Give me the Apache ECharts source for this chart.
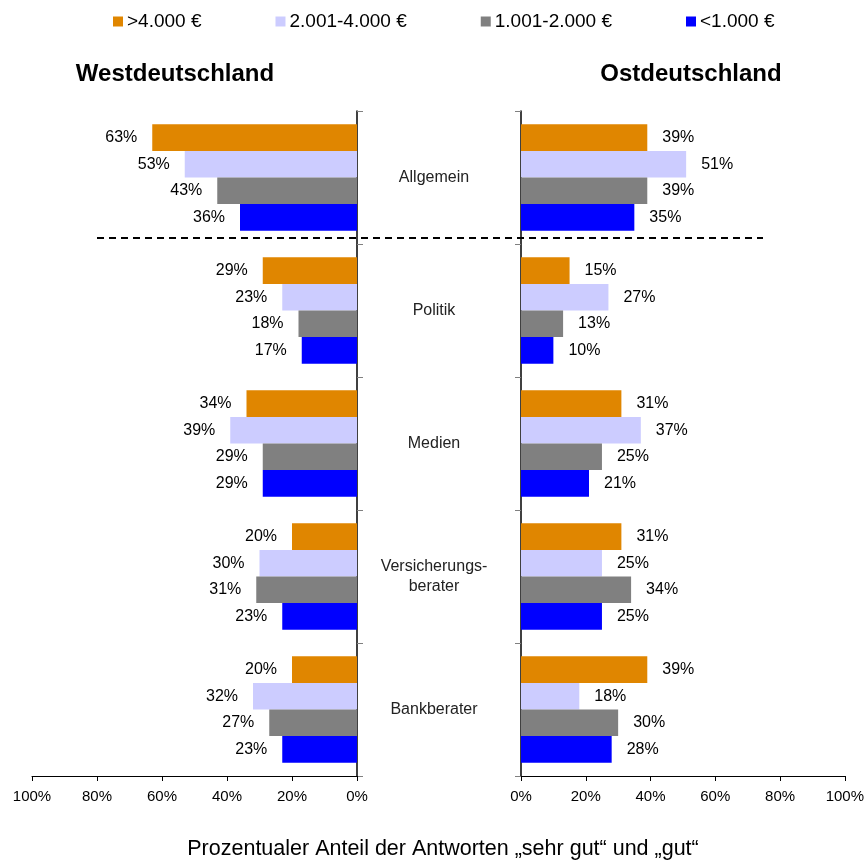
<!DOCTYPE html>
<html>
<head>
<meta charset="utf-8">
<script src="https://cdn.jsdelivr.net/npm/echarts@6/dist/echarts.min.js"></script>
<style>
  html, body { margin: 0; padding: 0; background: #fff; }
  #chart { width: 867px; height: 861px; }
</style>
</head>
<body>
<div id="chart"></div>
<script>
const categories = ['Allgemein', 'Politik', 'Medien', 'Versicherungs-\nberater', 'Bankberater']
const groups = ['>4.000 €', '2.001-4.000 €', '1.001-2.000 €', '<1.000 €']
const colors = ['#E08600', '#CCCCFF', '#808080', '#0000FF']

// Westdeutschland, one array per income group
const west = [
    [63, 29, 34, 20, 20],
    [53, 23, 39, 30, 32],
    [43, 18, 29, 31, 27],
    [36, 17, 29, 23, 23]
]
// Ostdeutschland
const east = [
    [39, 15, 31, 31, 39],
    [51, 27, 37, 25, 18],
    [39, 13, 25, 34, 30],
    [35, 10, 21, 25, 28]
]

const font = 'Liberation Sans, Arial, sans-serif'
const chart = echarts.init(document.getElementById('chart'))

const xAxisBase = (inverse) => ({
    type: 'value',
    min: 0,
    max: 100,
    interval: 20,
    inverse: inverse,
    axisLine: { show: true, lineStyle: { color: '#000', width: 1 } },
    axisTick: { show: true, length: 5, lineStyle: { color: '#000' } },
    axisLabel: { formatter: '{value}%', color: '#000', fontSize: 15, fontFamily: font, margin: 13 },
    splitLine: { show: false }
})

const yAxisBase = (pos, showLabel) => ({
    type: 'category',
    data: categories,
    inverse: true,
    position: pos,
    axisLine: { show: true, lineStyle: { color: '#000', width: 1.5 } },
    axisTick: { show: true, length: 6, lineStyle: { color: '#808080' } },
    axisLabel: {
        show: showLabel,
        align: 'center',
        margin: 77,
        color: '#222',
        fontSize: 16,
        lineHeight: 20,
        padding: [6, 0, 0, 0],
        fontFamily: font
    }
})

const series = []
groups.forEach((name, i) => {
    series.push({
        name: name,
        type: 'bar',
        xAxisIndex: 0,
        yAxisIndex: 0,
        data: west[i],
        barGap: '0%',
        barCategoryGap: '20%',
        itemStyle: { color: colors[i] },
        label: { show: true, position: 'left', distance: 15, formatter: '{c}%', color: '#000', fontSize: 16, fontFamily: font }
    })
})
groups.forEach((name, i) => {
    series.push({
        name: name,
        type: 'bar',
        xAxisIndex: 1,
        yAxisIndex: 1,
        data: east[i],
        barGap: '0%',
        barCategoryGap: '20%',
        itemStyle: { color: colors[i] },
        label: { show: true, position: 'right', distance: 15, formatter: '{c}%', color: '#000', fontSize: 16, fontFamily: font }
    })
})

chart.setOption({
    animation: false,
    textStyle: { fontFamily: font },
    title: [
        { text: 'Westdeutschland', left: 170, top: 57, textAlign: 'center', textStyle: { fontSize: 24, fontWeight: 'bold', color: '#000', fontFamily: font } },
        { text: 'Ostdeutschland', left: 686, top: 57, textAlign: 'center', textStyle: { fontSize: 24, fontWeight: 'bold', color: '#000', fontFamily: font } },
        { text: 'Prozentualer Anteil der Antworten „sehr gut“ und „gut“', left: 438, top: 833, textAlign: 'center', textStyle: { fontSize: 21.5, fontWeight: 'normal', color: '#000', fontFamily: font } }
    ],
    legend: {
        data: groups,
        top: 7,
        left: 108,
        itemWidth: 10,
        itemHeight: 10,
        itemGap: 74,
        icon: 'rect',
        textStyle: { fontSize: 19, color: '#000', fontFamily: font, padding: [0, 0, 0, -1] }
    },
    grid: [
        { left: 32, right: 510, top: 111, bottom: 85 },
        { left: 521, right: 21, top: 111, bottom: 85 }
    ],
    xAxis: [
        Object.assign(xAxisBase(true), { gridIndex: 0 }),
        Object.assign(xAxisBase(false), { gridIndex: 1 })
    ],
    yAxis: [
        Object.assign(yAxisBase('right', true), { gridIndex: 0 }),
        Object.assign(yAxisBase('left', false), { gridIndex: 1 })
    ],
    graphic: [{
        type: 'line',
        shape: { x1: 97, y1: 238, x2: 763, y2: 238 },
        style: { stroke: '#000', lineWidth: 2, lineDash: [7, 5] },
        z: 100
    }],
    series: series
})
</script>
</body>
</html>
